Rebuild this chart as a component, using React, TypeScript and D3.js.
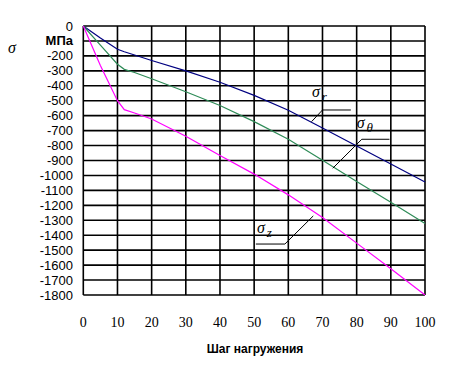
import React from 'react';
import * as d3 from 'd3';

// load steps and stresses, MPa
const steps = [0, 5, 10, 12, 15, 20, 30, 40, 50, 60, 70, 80, 90, 100];
const sigmaR = [0, -80, -156, -172, -194, -231, -300, -376, -464, -564, -683, -803, -924, -1044];
const sigmaTheta = [0, -128, -256, -290, -311, -353, -440, -532, -640, -758, -898, -1040, -1180, -1322];
const sigmaZ = [0, -265, -500, -560, -582, -622, -738, -867, -991, -1130, -1282, -1453, -1624, -1800];

const xTicks = d3.range(0, 101, 10);
const yTicks = d3.range(0, -1801, -100);

const width = 454;
const height = 374;

const x = d3.scaleLinear().domain([0, 100]).range([83.3, 425]);
const y = d3.scaleLinear().domain([-1800, 0]).range([295, 26]);

const series = [
  { name: 'r', values: sigmaR, color: '#000080' },
  { name: 'theta', values: sigmaTheta, color: '#2E8B57' },
  { name: 'z', values: sigmaZ, color: '#FF00FF' },
];

// leader annotations in data units: [diag start, elbow, end], label position
const notes = [
  { sub: 'r', pts: [[66.8, -640], [70.0, -562], [78.3, -562]], label: [66.9, -475] },
  { sub: 'θ', pts: [[73.0, -952], [81.5, -758], [89.6, -758]], label: [80.0, -683] },
  { sub: 'z', pts: [[67.3, -1271], [59.0, -1459], [50.5, -1459]], label: [50.8, -1387] },
];

const line = d3.line<number>()
  .x((_, i) => x(steps[i]))
  .y((d) => y(d));

const leader = d3.line<number[]>()
  .x((d) => x(d[0]))
  .y((d) => y(d[1]));

const App: React.FC = () => {
  return (
    <svg width={width} height={height} style={{ position: 'absolute', left: 0, top: 0, background: '#fff' }}>
      {/* grid */}
      <g stroke="#000" strokeWidth={1.6}>
        {yTicks.map((t) => (
          <line key={'h' + t} x1={x(0)} x2={x(100)} y1={y(t)} y2={y(t)} />
        ))}
        {xTicks.map((t) => (
          <line key={'v' + t} x1={x(t)} x2={x(t)} y1={y(0)} y2={y(-1800)} />
        ))}
      </g>

      {/* curves */}
      {series.map((s) => (
        <path key={s.name} d={line(s.values) || ''} fill="none" stroke={s.color} strokeWidth={1.2} />
      ))}

      {/* leaders */}
      {notes.map((n) => (
        <g key={n.sub}>
          <path d={leader(n.pts) || ''} fill="none" stroke="#000" strokeWidth={1} />
          <text x={x(n.label[0])} y={y(n.label[1])} fontFamily="'Liberation Serif', serif" fontStyle="italic" fontSize={16}>
            σ
            <tspan fontSize={13} dx={2} dy={4}>{n.sub}</tspan>
          </text>
        </g>
      ))}

      {/* y axis labels */}
      <g fontFamily="Arial, 'Liberation Sans', sans-serif" fontSize={13} textAnchor="end">
        {yTicks.map((t) => (
          <text key={'yl' + t} x={73} y={y(t)} dy="0.35em" fontWeight={t === -100 ? 'bold' : 'normal'}>
            {t === -100 ? 'МПа' : t}
          </text>
        ))}
      </g>
      <text x={8} y={53} fontFamily="'Liberation Serif', serif" fontStyle="italic" fontSize={16}>σ</text>

      {/* x axis labels */}
      <g fontFamily="'Liberation Serif', 'Times New Roman', serif" fontSize={14} textAnchor="middle">
        {xTicks.map((t) => (
          <text key={'xl' + t} x={x(t)} y={327}>{t}</text>
        ))}
      </g>
      <text x={255} y={353} textAnchor="middle" fontFamily="Arial, 'Liberation Sans', sans-serif" fontWeight="bold" fontSize={12}>
        Шаг нагружения
      </text>
    </svg>
  );
};

export default App;
